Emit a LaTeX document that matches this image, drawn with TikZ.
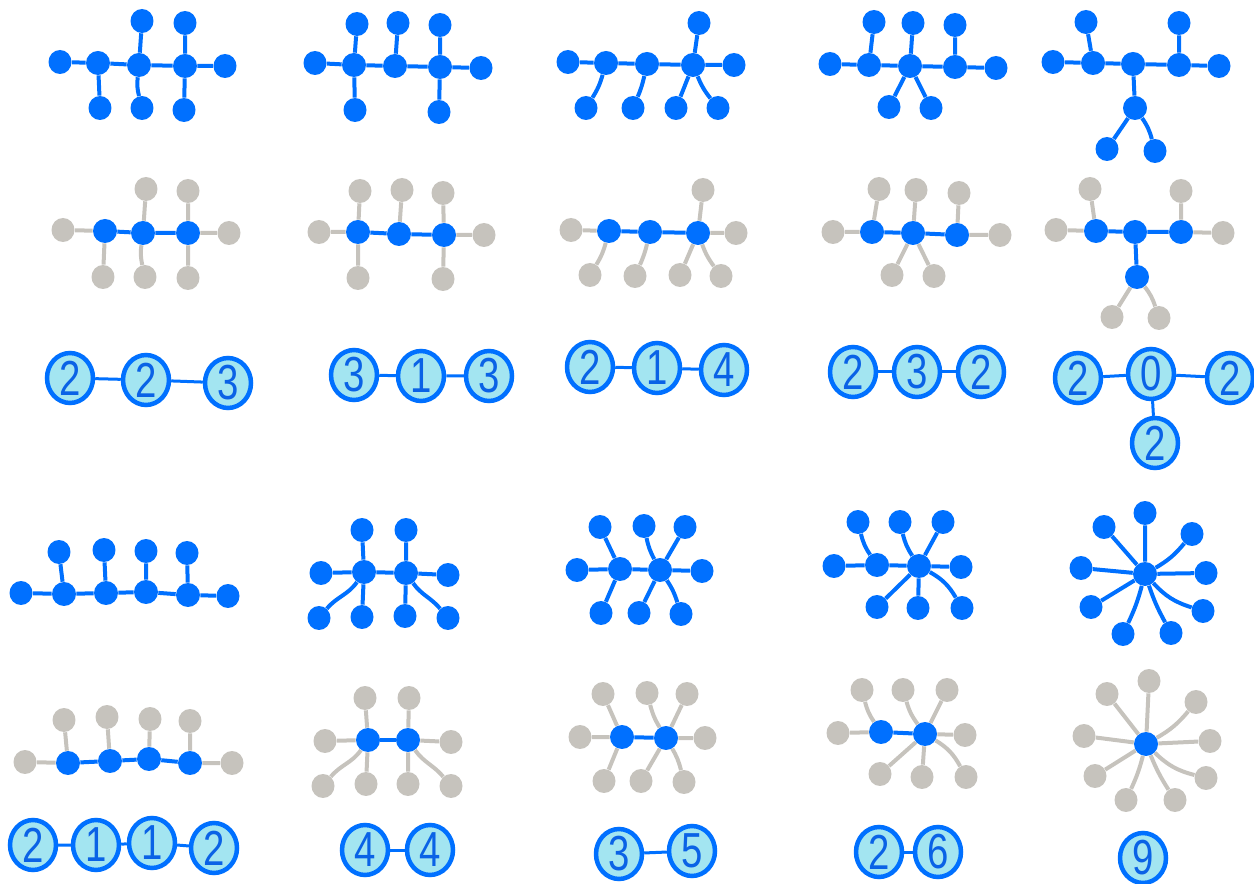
\documentclass[tikz,border=0pt]{standalone}
\usepackage{fontspec}
\setsansfont{Liberation Sans}[FakeStretch=0.78]
\usetikzlibrary{shapes.geometric}
\definecolor{dotblue}{HTML}{0070FF}
\definecolor{dotgray}{HTML}{C6C3BD}
\definecolor{countfill}{HTML}{A3E5F1}
\definecolor{countink}{HTML}{0A62E6}

\begin{document}
\begin{tikzpicture}[x=0.02cm, y=-0.02cm,
    hubdot/.style={ellipse, fill=dotblue, minimum width=0.48cm, minimum height=0.48cm, inner sep=0pt},
    leafdot/.style={ellipse, fill=dotblue, minimum width=0.46cm, minimum height=0.48cm, inner sep=0pt},
    greydot/.style={leafdot, fill=dotgray},
    blueline/.style={draw=dotblue, line width=0.08cm},
    greyline/.style={draw=dotgray, line width=0.08cm},
    countbox/.style={ellipse, draw=dotblue, line width=0.09cm, fill=countfill, text=countink,
      minimum width=0.92cm, minimum height=1.0cm, inner sep=0pt, font=\sffamily\fontsize{28}{28}\selectfont},
    countline/.style={draw=dotblue, line width=0.06cm}]

    \useasboundingbox (0,0) rectangle (1254,884);

    % tree 1
    \node[leafdot] (f1l1) at (60,62) {};
    \node[hubdot] (f1c1) at (98,63) {};
    \node[hubdot] (f1c2) at (139,65) {};
    \node[hubdot] (f1c3) at (185,66) {};
    \node[leafdot] (f1l2) at (225,66) {};
    \node[leafdot] (f1l3) at (142,21) {};
    \node[leafdot] (f1l4) at (185,23) {};
    \node[leafdot] (f1l5) at (100,108) {};
    \node[leafdot] (f1l6) at (142,108) {};
    \node[leafdot] (f1l7) at (184,110) {};
    \draw[blueline] (f1c1) -- (f1l1) (f1c1) -- (f1c2) (f1c2) -- (f1c3) (f1c3) -- (f1l2)
      (f1c2) -- (f1l3) (f1c3) -- (f1l4) (f1c1) -- (f1l5) (f1c2) to[bend right=10] (f1l6) (f1c3) -- (f1l7);

    \node[greydot] (r1l1) at (63,230) {};
    \node[hubdot] (r1c1) at (105,231) {};
    \node[hubdot] (r1c2) at (143,233) {};
    \node[hubdot] (r1c3) at (188,233) {};
    \node[greydot] (r1l2) at (229,233) {};
    \node[greydot] (r1l3) at (146,189) {};
    \node[greydot] (r1l4) at (188,191) {};
    \node[greydot] (r1l5) at (103,277) {};
    \node[greydot] (r1l6) at (145,277) {};
    \node[greydot] (r1l7) at (188,278) {};
    \draw[greyline] (r1c1) -- (r1l1) (r1c3) -- (r1l2) (r1c2) -- (r1l3) (r1c3) -- (r1l4)
      (r1c1) -- (r1l5) (r1c2) to[bend right=10] (r1l6) (r1c3) -- (r1l7);
    \draw[blueline] (r1c1) -- (r1c2) (r1c2) -- (r1c3);

    \node[countbox] (n1a) at (70,378) {2};
    \node[countbox] (n1b) at (146,380) {2};
    \node[countbox] (n1c) at (228,383) {3};
    \draw[countline] (n1a) -- (n1b) (n1b) -- (n1c);

    % tree 2
    \node[leafdot] (f2l1) at (315,63) {};
    \node[hubdot] (f2c1) at (354,65) {};
    \node[hubdot] (f2c2) at (395,66) {};
    \node[hubdot] (f2c3) at (440,67) {};
    \node[leafdot] (f2l2) at (481,68) {};
    \node[leafdot] (f2l3) at (357,24) {};
    \node[leafdot] (f2l4) at (398,23) {};
    \node[leafdot] (f2l5) at (440,25) {};
    \node[leafdot] (f2l6) at (355,110) {};
    \node[leafdot] (f2l7) at (439,112) {};
    \draw[blueline] (f2c1) -- (f2l1) (f2c1) -- (f2c2) (f2c2) -- (f2c3) (f2c3) -- (f2l2)
      (f2c1) -- (f2l3) (f2c2) -- (f2l4) (f2c3) -- (f2l5) (f2c1) -- (f2l6) (f2c3) -- (f2l7);

    \node[greydot] (r2l1) at (319,232) {};
    \node[hubdot] (r2c1) at (358,232) {};
    \node[hubdot] (r2c2) at (399,234) {};
    \node[hubdot] (r2c3) at (444,235) {};
    \node[greydot] (r2l2) at (484,235) {};
    \node[greydot] (r2l3) at (360,191) {};
    \node[greydot] (r2l4) at (402,190) {};
    \node[greydot] (r2l5) at (443,193) {};
    \node[greydot] (r2l6) at (358,278) {};
    \node[greydot] (r2l7) at (443,279) {};
    \draw[greyline] (r2c1) -- (r2l1) (r2c3) -- (r2l2) (r2c1) -- (r2l3) (r2c2) -- (r2l4)
      (r2c3) -- (r2l5) (r2c1) -- (r2l6) (r2c3) -- (r2l7);
    \draw[blueline] (r2c1) -- (r2c2) (r2c2) -- (r2c3);

    \node[countbox] (n2a) at (354,375) {3};
    \node[countbox] (n2b) at (421,376) {1};
    \node[countbox] (n2c) at (489,376) {3};
    \draw[countline] (n2a) -- (n2b) (n2b) -- (n2c);

    % tree 3
    \node[leafdot] (f3l1) at (568,62) {};
    \node[hubdot] (f3c1) at (606,63) {};
    \node[hubdot] (f3c2) at (647,64) {};
    \node[hubdot] (f3c3) at (693,65) {};
    \node[leafdot] (f3l2) at (734,65) {};
    \node[leafdot] (f3l3) at (699,23) {};
    \node[leafdot] (f3l4) at (586,108) {};
    \node[leafdot] (f3l5) at (633,108) {};
    \node[leafdot] (f3l6) at (676,108) {};
    \node[leafdot] (f3l7) at (718,108) {};
    \draw[blueline] (f3c1) -- (f3l1) (f3c1) -- (f3c2) (f3c2) -- (f3c3) (f3c3) -- (f3l2)
      (f3c3) -- (f3l3) (f3c1) to[bend left=8] (f3l4) (f3c2) to[bend left=5] (f3l5)
      (f3c3) -- (f3l6) (f3c3) to[bend right=8] (f3l7);

    \node[greydot] (r3l1) at (571,230) {};
    \node[hubdot] (r3c1) at (609,231) {};
    \node[hubdot] (r3c2) at (650,232) {};
    \node[hubdot] (r3c3) at (698,233) {};
    \node[greydot] (r3l2) at (736,233) {};
    \node[greydot] (r3l3) at (703,190) {};
    \node[greydot] (r3l4) at (590,275) {};
    \node[greydot] (r3l5) at (635,276) {};
    \node[greydot] (r3l6) at (680,275) {};
    \node[greydot] (r3l7) at (721,276) {};
    \draw[greyline] (r3c1) -- (r3l1) (r3c3) -- (r3l2) (r3c3) -- (r3l3)
      (r3c1) to[bend left=8] (r3l4) (r3c2) to[bend left=5] (r3l5)
      (r3c3) -- (r3l6) (r3c3) to[bend right=8] (r3l7);
    \draw[blueline] (r3c1) -- (r3c2) (r3c2) -- (r3c3);

    \node[countbox] (n3a) at (590,367) {2};
    \node[countbox] (n3b) at (657,368) {1};
    \node[countbox] (n3c) at (724,370) {4};
    \draw[countline] (n3a) -- (n3b) (n3b) -- (n3c);

    % tree 4
    \node[leafdot] (f4l1) at (830,64) {};
    \node[hubdot] (f4c1) at (869,65) {};
    \node[hubdot] (f4c2) at (910,66) {};
    \node[hubdot] (f4c3) at (955,67) {};
    \node[leafdot] (f4l2) at (996,68) {};
    \node[leafdot] (f4l3) at (874,22) {};
    \node[leafdot] (f4l4) at (913,23) {};
    \node[leafdot] (f4l5) at (955,25) {};
    \node[leafdot] (f4l6) at (889,107) {};
    \node[leafdot] (f4l7) at (931,108) {};
    \draw[blueline] (f4c1) -- (f4l1) (f4c1) -- (f4c2) (f4c2) -- (f4c3) (f4c3) -- (f4l2)
      (f4c1) -- (f4l3) (f4c2) -- (f4l4) (f4c3) -- (f4l5) (f4c2) -- (f4l6) (f4c2) -- (f4l7);

    \node[greydot] (r4l1) at (833,232) {};
    \node[hubdot] (r4c1) at (872,232) {};
    \node[hubdot] (r4c2) at (913,233) {};
    \node[hubdot] (r4c3) at (957,235) {};
    \node[greydot] (r4l2) at (1000,235) {};
    \node[greydot] (r4l3) at (879,189) {};
    \node[greydot] (r4l4) at (916,190) {};
    \node[greydot] (r4l5) at (959,193) {};
    \node[greydot] (r4l6) at (892,275) {};
    \node[greydot] (r4l7) at (934,276) {};
    \draw[greyline] (r4c1) -- (r4l1) (r4c3) -- (r4l2) (r4c1) -- (r4l3) (r4c2) -- (r4l4)
      (r4c3) -- (r4l5) (r4c2) -- (r4l6) (r4c2) -- (r4l7);
    \draw[blueline] (r4c1) -- (r4c2) (r4c2) -- (r4c3);

    \node[countbox] (n4a) at (853,372) {2};
    \node[countbox] (n4b) at (917,372) {3};
    \node[countbox] (n4c) at (981,372) {2};
    \draw[countline] (n4a) -- (n4b) (n4b) -- (n4c);

    % tree 5
    \node[leafdot] (f5l1) at (1053,62) {};
    \node[hubdot] (f5c1) at (1093,63) {};
    \node[hubdot] (f5c2) at (1133,64) {};
    \node[hubdot] (f5c3) at (1179,65) {};
    \node[leafdot] (f5l2) at (1219,66) {};
    \node[leafdot] (f5l3) at (1086,22) {};
    \node[leafdot] (f5l4) at (1179,23) {};
    \node[hubdot] (f5c4) at (1135,108) {};
    \node[leafdot] (f5l5) at (1107,149) {};
    \node[leafdot] (f5l6) at (1155,151) {};
    \draw[blueline] (f5c1) -- (f5l1) (f5c1) -- (f5c2) (f5c2) -- (f5c3) (f5c3) -- (f5l2)
      (f5c1) -- (f5l3) (f5c3) -- (f5l4) (f5c2) -- (f5c4)
      (f5c4) -- (f5l5) (f5c4) to[bend left=10] (f5l6);

    \node[greydot] (r5l1) at (1056,230) {};
    \node[hubdot] (r5c1) at (1096,231) {};
    \node[hubdot] (r5c2) at (1135,232) {};
    \node[hubdot] (r5c3) at (1181,232) {};
    \node[greydot] (r5l2) at (1223,233) {};
    \node[greydot] (r5l3) at (1090,189) {};
    \node[greydot] (r5l4) at (1181,191) {};
    \node[hubdot] (r5c4) at (1137,277) {};
    \node[greydot] (r5l5) at (1112,317) {};
    \node[greydot] (r5l6) at (1159,318) {};
    \draw[greyline] (r5c1) -- (r5l1) (r5c3) -- (r5l2) (r5c1) -- (r5l3) (r5c3) -- (r5l4)
      (r5c4) -- (r5l5) (r5c4) to[bend left=10] (r5l6);
    \draw[blueline] (r5c1) -- (r5c2) (r5c2) -- (r5c3) (r5c2) -- (r5c4);

    \node[countbox] (n5a) at (1078,378) {2};
    \node[countbox] (n5b) at (1151,374) {0};
    \node[countbox] (n5c) at (1230,378) {2};
    \node[countbox] (n5d) at (1155,443) {2};
    \draw[countline] (n5a) -- (n5b) (n5b) -- (n5c) (n5b) -- (n5d);

    % tree 6
    \node[leafdot] (f6l1) at (21,593) {};
    \node[hubdot] (f6c1) at (64,594) {};
    \node[hubdot] (f6c2) at (106,593) {};
    \node[hubdot] (f6c3) at (146,592) {};
    \node[hubdot] (f6c4) at (188,595) {};
    \node[leafdot] (f6l2) at (228,596) {};
    \node[leafdot] (f6l3) at (59,552) {};
    \node[leafdot] (f6l4) at (104,550) {};
    \node[leafdot] (f6l5) at (146,551) {};
    \node[leafdot] (f6l6) at (187,553) {};
    \draw[blueline] (f6c1) -- (f6l1) (f6c1) -- (f6c2) (f6c2) -- (f6c3) (f6c3) -- (f6c4) (f6c4) -- (f6l2)
      (f6c1) -- (f6l3) (f6c2) -- (f6l4) (f6c3) -- (f6l5) (f6c4) -- (f6l6);

    \node[greydot] (r6l1) at (25,762) {};
    \node[hubdot] (r6c1) at (68,763) {};
    \node[hubdot] (r6c2) at (110,761) {};
    \node[hubdot] (r6c3) at (149,759) {};
    \node[hubdot] (r6c4) at (190,763) {};
    \node[greydot] (r6l2) at (232,763) {};
    \node[greydot] (r6l3) at (64,720) {};
    \node[greydot] (r6l4) at (107,717) {};
    \node[greydot] (r6l5) at (150,719) {};
    \node[greydot] (r6l6) at (190,721) {};
    \draw[greyline] (r6c1) -- (r6l1) (r6c4) -- (r6l2)
      (r6c1) -- (r6l3) (r6c2) -- (r6l4) (r6c3) -- (r6l5) (r6c4) -- (r6l6);
    \draw[blueline] (r6c1) -- (r6c2) (r6c2) -- (r6c3) (r6c3) -- (r6c4);

    \node[countbox] (n6a) at (33,845) {2};
    \node[countbox] (n6b) at (96,845) {1};
    \node[countbox] (n6c) at (152,843) {1};
    \node[countbox] (n6d) at (214,848) {2};
    \draw[countline] (n6a) -- (n6b) (n6b) -- (n6c) (n6c) -- (n6d);

    % tree 7
    \node[leafdot] (f7l1) at (321,573) {};
    \node[hubdot] (f7c1) at (364,572) {};
    \node[hubdot] (f7c2) at (406,573) {};
    \node[leafdot] (f7l2) at (448,575) {};
    \node[leafdot] (f7l3) at (362,530) {};
    \node[leafdot] (f7l4) at (406,530) {};
    \node[leafdot] (f7l5) at (319,618) {};
    \node[leafdot] (f7l6) at (362,617) {};
    \node[leafdot] (f7l7) at (405,616) {};
    \node[leafdot] (f7l8) at (448,618) {};
    \draw[blueline] (f7c1) -- (f7l1) (f7c1) -- (f7c2) (f7c2) -- (f7l2)
      (f7c1) -- (f7l3) (f7c2) -- (f7l4) (f7c1) to[out=-125, in=50] (f7l5)
      (f7c1) -- (f7l6) (f7c2) -- (f7l7) (f7c2) to[out=-55, in=130] (f7l8);

    \node[greydot] (r7l1) at (325,741) {};
    \node[hubdot] (r7c1) at (368,740) {};
    \node[hubdot] (r7c2) at (408,740) {};
    \node[greydot] (r7l2) at (451,742) {};
    \node[greydot] (r7l3) at (365,698) {};
    \node[greydot] (r7l4) at (409,698) {};
    \node[greydot] (r7l5) at (323,786) {};
    \node[greydot] (r7l6) at (366,784) {};
    \node[greydot] (r7l7) at (408,784) {};
    \node[greydot] (r7l8) at (451,786) {};
    \draw[greyline] (r7c1) -- (r7l1) (r7c2) -- (r7l2)
      (r7c1) -- (r7l3) (r7c2) -- (r7l4) (r7c1) to[out=-125, in=50] (r7l5)
      (r7c1) -- (r7l6) (r7c2) -- (r7l7) (r7c2) to[out=-55, in=130] (r7l8);
    \draw[blueline] (r7c1) -- (r7c2);

    \node[countbox] (n7a) at (365,850) {4};
    \node[countbox] (n7b) at (430,850) {4};
    \draw[countline] (n7a) -- (n7b);

    % tree 8
    \node[leafdot] (f8l1) at (577,570) {};
    \node[hubdot] (f8c1) at (620,569) {};
    \node[hubdot] (f8c2) at (660,570) {};
    \node[leafdot] (f8l2) at (702,571) {};
    \node[leafdot] (f8l3) at (600,527) {};
    \node[leafdot] (f8l4) at (644,526) {};
    \node[leafdot] (f8l5) at (685,527) {};
    \node[leafdot] (f8l6) at (601,613) {};
    \node[leafdot] (f8l7) at (639,613) {};
    \node[leafdot] (f8l8) at (681,614) {};
    \draw[blueline] (f8c1) -- (f8l1) (f8c1) -- (f8c2) (f8c2) -- (f8l2)
      (f8c1) -- (f8l3) (f8c2) to[bend left=8] (f8l4) (f8c2) -- (f8l5)
      (f8c1) -- (f8l6) (f8c2) -- (f8l7) (f8c2) to[bend left=8] (f8l8);

    \node[greydot] (r8l1) at (580,737) {};
    \node[hubdot] (r8c1) at (622,737) {};
    \node[hubdot] (r8c2) at (666,738) {};
    \node[greydot] (r8l2) at (705,738) {};
    \node[greydot] (r8l3) at (603,694) {};
    \node[greydot] (r8l4) at (647,693) {};
    \node[greydot] (r8l5) at (687,694) {};
    \node[greydot] (r8l6) at (604,781) {};
    \node[greydot] (r8l7) at (641,781) {};
    \node[greydot] (r8l8) at (684,782) {};
    \draw[greyline] (r8c1) -- (r8l1) (r8c2) -- (r8l2)
      (r8c1) -- (r8l3) (r8c2) to[bend left=8] (r8l4) (r8c2) -- (r8l5)
      (r8c1) -- (r8l6) (r8c2) -- (r8l7) (r8c2) to[bend left=8] (r8l8);
    \draw[blueline] (r8c1) -- (r8c2);

    \node[countbox] (n8a) at (619,854) {3};
    \node[countbox] (n8b) at (692,851) {5};
    \draw[countline] (n8a) -- (n8b);

    % tree 9
    \node[leafdot] (f9l1) at (834,566) {};
    \node[hubdot] (f9c1) at (877,565) {};
    \node[hubdot] (f9c2) at (919,566) {};
    \node[leafdot] (f9l2) at (961,567) {};
    \node[leafdot] (f9l3) at (858,522) {};
    \node[leafdot] (f9l4) at (900,522) {};
    \node[leafdot] (f9l5) at (943,522) {};
    \node[leafdot] (f9l6) at (877,607) {};
    \node[leafdot] (f9l7) at (918,608) {};
    \node[leafdot] (f9l8) at (962,608) {};
    \draw[blueline] (f9c1) -- (f9l1) (f9c1) -- (f9c2) (f9c2) -- (f9l2)
      (f9c1) to[bend left=10] (f9l3) (f9c2) to[bend left=10] (f9l4) (f9c2) -- (f9l5)
      (f9c2) -- (f9l6) (f9c2) -- (f9l7) (f9c2) to[bend left=15] (f9l8);

    \node[greydot] (r9l1) at (838,733) {};
    \node[hubdot] (r9c1) at (881,732) {};
    \node[hubdot] (r9c2) at (925,734) {};
    \node[greydot] (r9l2) at (965,735) {};
    \node[greydot] (r9l3) at (862,690) {};
    \node[greydot] (r9l4) at (903,690) {};
    \node[greydot] (r9l5) at (947,690) {};
    \node[greydot] (r9l6) at (880,774) {};
    \node[greydot] (r9l7) at (922,777) {};
    \node[greydot] (r9l8) at (966,777) {};
    \draw[greyline] (r9c1) -- (r9l1) (r9c2) -- (r9l2)
      (r9c1) to[bend left=10] (r9l3) (r9c2) to[bend left=10] (r9l4) (r9c2) -- (r9l5)
      (r9c2) -- (r9l6) (r9c2) -- (r9l7) (r9c2) to[bend left=15] (r9l8);
    \draw[blueline] (r9c1) -- (r9c2);

    \node[countbox] (n9a) at (879,852) {2};
    \node[countbox] (n9b) at (938,852) {6};
    \draw[countline] (n9a) -- (n9b);

    % tree 10
    \node[hubdot] (f10c) at (1145,574) {};
    \node[leafdot] (f10l1) at (1145,513) {};
    \node[leafdot] (f10l2) at (1104,527) {};
    \node[leafdot] (f10l3) at (1192,534) {};
    \node[leafdot] (f10l4) at (1081,568) {};
    \node[leafdot] (f10l5) at (1206,573) {};
    \node[leafdot] (f10l6) at (1091,607) {};
    \node[leafdot] (f10l7) at (1203,611) {};
    \node[leafdot] (f10l8) at (1123,634) {};
    \node[leafdot] (f10l9) at (1171,633) {};
    \draw[blueline] (f10c) -- (f10l1) (f10c) -- (f10l2) (f10c) to[bend right=10] (f10l3)
      (f10c) -- (f10l4) (f10c) -- (f10l5) (f10c) -- (f10l6)
      (f10c) to[bend right=15] (f10l7) (f10c) to[bend left=5] (f10l8) (f10c) to[bend right=5] (f10l9);

    \node[hubdot] (r10c) at (1146,744) {};
    \node[greydot] (r10l1) at (1149,681) {};
    \node[greydot] (r10l2) at (1107,694) {};
    \node[greydot] (r10l3) at (1196,702) {};
    \node[greydot] (r10l4) at (1084,736) {};
    \node[greydot] (r10l5) at (1210,741) {};
    \node[greydot] (r10l6) at (1095,776) {};
    \node[greydot] (r10l7) at (1206,778) {};
    \node[greydot] (r10l8) at (1126,800) {};
    \node[greydot] (r10l9) at (1175,800) {};
    \draw[greyline] (r10c) -- (r10l1) (r10c) -- (r10l2) (r10c) to[bend right=10] (r10l3)
      (r10c) -- (r10l4) (r10c) -- (r10l5) (r10c) -- (r10l6)
      (r10c) to[bend right=15] (r10l7) (r10c) to[bend left=5] (r10l8) (r10c) to[bend right=5] (r10l9);

    \node[countbox] (n10a) at (1143,858) {9};
  \end{tikzpicture}
\end{document}
